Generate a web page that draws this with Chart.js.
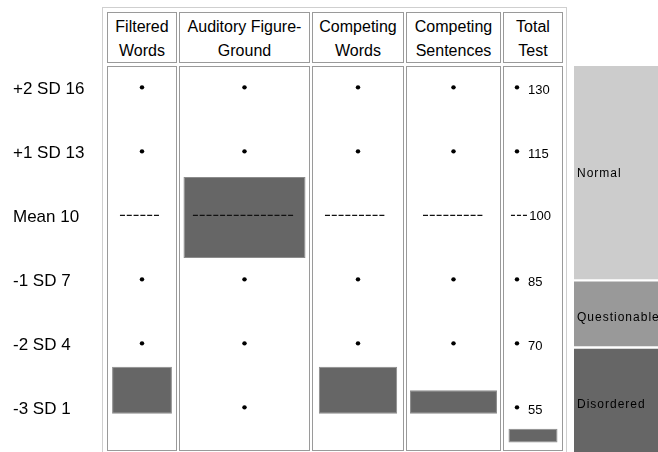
<!DOCTYPE html>
<html lang="en">
<head>
<meta charset="UTF-8">
<title>Auditory Processing Profile</title>
<script src="https://cdn.jsdelivr.net/npm/chart.js"></script>
<style>
  body { margin: 0; background: #fff; font-family: Arial, "Liberation Sans", sans-serif; }
  #page { position: relative; width: 658px; height: 452px; overflow: hidden; }
  .box { position: absolute; box-sizing: border-box; }
  .outer { border: 1px solid #cfcfcf; }
  .cell { border: 1px solid #9a9a9a; }
  .head { text-align: center; font-size: 16px; line-height: 24px; color: #000; padding-top: 2px; white-space: nowrap; }
  canvas { position: absolute; }
</style>
</head>
<body>
<div id="page"></div>
<script>
  const columns = ['Filtered Words', 'Auditory Figure-Ground', 'Competing Words', 'Competing Sentences', 'Total Test'];
  const headerLines = [['Filtered', 'Words'], ['Auditory Figure-', 'Ground'], ['Competing', 'Words'], ['Competing', 'Sentences'], ['Total', 'Test']];
  const rowLabels = ['+2 SD 16', '+1 SD 13', 'Mean 10', '-1 SD 7', '-2 SD 4', '-3 SD 1'];
  const rowValues = [16, 13, 10, 7, 4, 1];
  const totalScores = [130, 115, 100, 85, 70, 55];
  // score range bars, read on the 1..16 row scale
  const scoreRanges = [[0.7, 2.9], [8.0, 11.8], [0.7, 2.9], [0.7, 1.8], [-0.65, 0.0]];
  // levels that show a dot in each column
  const dotLevels = [[16, 13, 7, 4], [16, 13, 7, 4, 1], [16, 13, 7, 4], [16, 13, 7, 4], [16, 13, 7, 4, 1]];
  const bandNames = ['Normal', 'Questionable', 'Disordered'];
  const bandRanges = [[7.02, 17.0], [3.88, 6.88], [-1.2, 3.73]];

  // layout
  const PX = 64 / 3;      // pixels per unit on the row scale
  const TOP = 66;         // page y of value 17
  const cellX = [107, 179, 312, 406, 503];
  const cellW = [70, 131, 92, 95, 60];
  const barPct = [0.88, 0.946, 0.87, 0.935, 0.845];
  const dashSpan = [[0.176, 0.765], [0.10, 0.89], [0.133, 0.80], [0.172, 0.817], [0.12, 0.40]];
  const dashPattern = [[5, 1.8], [5, 1.8], [5, 1.8], [5, 1.8], [4, 2]];
  const dotX = [0.5, 0.5, 0.5, 0.5, 0.224];
  const bandTextShift = [1, 4, 4.5];

  const page = document.getElementById('page');

  function addBox(cls, x, y, w, h) {
    const d = document.createElement('div');
    d.className = 'box ' + cls;
    Object.assign(d.style, { left: x + 'px', top: y + 'px', width: w + 'px', height: h + 'px' });
    page.appendChild(d);
    return d;
  }

  function addCanvas(x, y, w, h) {
    const c = document.createElement('canvas');
    c.width = w; c.height = h;
    Object.assign(c.style, { left: x + 'px', top: y + 'px', width: w + 'px', height: h + 'px' });
    page.appendChild(c);
    return c;
  }

  function yRange(top, h) {
    const max = 17 - (top - TOP) / PX;
    return { min: max - h / PX, max: max };
  }

  const base = { responsive: false, animation: false, devicePixelRatio: 1, events: [],
    plugins: { legend: { display: false }, tooltip: { enabled: false } },
    layout: { padding: 0, autoPadding: false } };

  addBox('outer', 102, 7, 465, 460);

  // row labels
  (function () {
    const h = 383, r = yRange(67, h);
    new Chart(addCanvas(0, 67, 102, h), {
      type: 'bar',
      data: { labels: [''], datasets: [] },
      options: Object.assign({}, base, {
        layout: { padding: { left: 13 }, autoPadding: false },
        scales: {
          x: { display: false },
          y: {
            min: r.min, max: r.max,
            afterBuildTicks: s => { s.ticks = rowValues.map(value => ({ value })); },
            afterFit: s => { s.width = 80; s.paddingTop = 0; s.paddingBottom = 0; },
            grid: { display: false }, border: { display: false },
            ticks: { crossAlign: 'far', padding: 0, labelOffset: 2, color: '#000', font: { family: 'Arial', size: 17 },
              callback: v => rowLabels[rowValues.indexOf(v)] }
          }
        }
      })
    });
  })();

  const totalLabels = {
    id: 'totalLabels',
    afterDatasetsDraw(chart) {
      const { ctx, scales: { y, xd } } = chart;
      ctx.save();
      ctx.font = '13px Arial';
      ctx.fillStyle = '#000';
      ctx.textBaseline = 'middle';
      ctx.textAlign = 'left';
      rowValues.forEach((v, k) => {
        const x = v === 10 ? xd.getPixelForValue(dashSpan[4][1]) + 2 : xd.getPixelForValue(dotX[4]) + 11;
        ctx.fillText(String(totalScores[k]), x, y.getPixelForValue(v) + (v === 10 ? 1.5 : 3));
      });
      ctx.restore();
    }
  };

  columns.forEach((name, i) => {
    const head = addBox('cell head', cellX[i], 12, cellW[i], 51);
    head.innerHTML = headerLines[i].join('<br>');
    addBox('cell', cellX[i], 66, cellW[i], 385);

    const w = cellW[i] - 2, h = 383, r = yRange(67, h);
    const datasets = [
      { type: 'bar', data: [scoreRanges[i]], backgroundColor: '#666666', borderColor: '#8c8c8c', borderWidth: 1,
        borderSkipped: false, grouped: false, barPercentage: barPct[i], categoryPercentage: 1, order: 3 },
      { type: 'line', xAxisID: 'xd', data: dashSpan[i].map(x => ({ x, y: 10 })), borderColor: '#111',
        borderWidth: 1.2, borderDash: dashPattern[i], pointRadius: 0, order: 1 },
      { type: 'scatter', xAxisID: 'xd', data: dotLevels[i].map(v => ({ x: dotX[i], y: v })),
        pointRadius: 2.2, backgroundColor: '#000', borderWidth: 0, order: 0 }
    ];
    new Chart(addCanvas(cellX[i] + 1, 67, w, h), {
      type: 'bar',
      data: { labels: [name], datasets },
      options: Object.assign({}, base, {
        scales: {
          x: { type: 'category', display: false },
          xd: { type: 'linear', position: 'bottom', min: 0, max: 1, offset: false, display: false },
          y: { min: r.min, max: r.max, display: false }
        }
      }),
      plugins: i === 4 ? [totalLabels] : []
    });
  });

  // legend bands
  const bandLabels = {
    id: 'bandLabels',
    afterDatasetsDraw(chart) {
      const { ctx, chartArea, scales: { y } } = chart;
      ctx.save();
      ctx.font = '12px Arial';
      ctx.letterSpacing = '1px';
      ctx.fillStyle = '#000';
      ctx.textBaseline = 'middle';
      bandRanges.forEach((rg, k) => {
        const top = Math.max(y.getPixelForValue(rg[1]), chartArea.top);
        const bot = Math.min(y.getPixelForValue(rg[0]), chartArea.bottom);
        ctx.fillText(bandNames[k], chartArea.left + 3, (top + bot) / 2 + bandTextShift[k]);
      });
      ctx.restore();
    }
  };

  (function () {
    const h = 386, r = yRange(66, h);
    const colors = ['#cccccc', '#999999', '#666666'];
    new Chart(addCanvas(574, 66, 84, h), {
      type: 'bar',
      data: {
        labels: ['band'],
        datasets: bandNames.map((n, k) => ({ label: n, data: [bandRanges[k]], backgroundColor: colors[k],
          borderWidth: 0, grouped: false, barPercentage: 1, categoryPercentage: 1 }))
      },
      options: Object.assign({}, base, {
        scales: { x: { display: false }, y: { min: r.min, max: r.max, display: false } }
      }),
      plugins: [bandLabels]
    });
  })();
</script>
</body>
</html>
